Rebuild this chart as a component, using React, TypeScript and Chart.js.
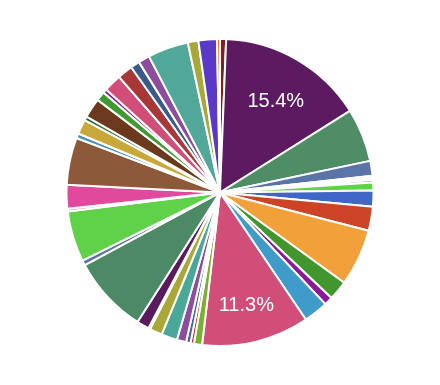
import React, { useEffect, useRef } from "react";
import { Chart, registerables } from "chart.js";

Chart.register(...registerables);

const categories: string[] = [
  "S1", "S2", "S3", "S4", "S5", "S6", "S7", "S8", "S9", "S10",
  "S11", "S12", "S13", "S14", "S15", "S16", "S17", "S18", "S19", "S20",
  "S21", "S22", "S23", "S24", "S25", "S26", "S27", "S28", "S29", "S30",
  "S31", "S32", "S33", "S34", "S35", "S36", "S37", "S38", "S39", "S40",
  "S41", "S42", "S43",
];

const values: number[] = [
  0.64, 15.4, 5.62, 1.56, 0.22, 0.22, 0.25, 0.83, 1.69, 2.53,
  5.98, 2.06, 0.89, 2.58, 11.3, 0.86, 0.36, 0.47, 0.97, 1.67,
  1.33, 0.19, 1.31, 8.1, 0.53, 5.33, 0.28, 2.5, 4.96, 0.5,
  1.53, 0.42, 2.08, 0.97, 0.42, 1.86, 1.61, 0.97, 1.19, 4.28,
  1.11, 1.94, 0.31,
];

const colors: string[] = [
  "#8a1c1c", "#5c1a60", "#4f8d66", "#5a74a8", "#eadccc", "#c8a070", "#a0683a", "#5dd444", "#3e67c8", "#cc4425",
  "#f2a03a", "#41962e", "#8a1a9a", "#3f9bc8", "#d04e78", "#79b030", "#cc3030", "#4060b0", "#8e4c9e", "#4aa898",
  "#a8a838", "#f0f0f0", "#5a1a5e", "#4b8a64", "#5a74a8", "#5fd24a", "#d090c0", "#e04a9c", "#8c5a3a", "#4a90b0",
  "#c8a838", "#2e6b3a", "#6b3a1c", "#3f9a30", "#8a1aa0", "#d04e78", "#a83838", "#3a5a8a", "#8e4c9e", "#52a898",
  "#a8a838", "#5a38c8", "#e07020",
];

const labelPlugin = {
  id: "sliceLabels",
  afterDatasetsDraw(chart: any) {
    const ctx = chart.ctx;
    const meta = chart.getDatasetMeta(0);
    const data = chart.data.datasets[0].data as number[];
    const total = data.reduce((a, b) => a + b, 0);
    ctx.save();
    ctx.fillStyle = "#ffffff";
    ctx.font = "20px 'Liberation Sans', Arial, sans-serif";
    ctx.textAlign = "center";
    ctx.textBaseline = "middle";
    meta.data.forEach((arc: any, i: number) => {
      const pct = (data[i] / total) * 100;
      if (pct < 10) return;
      const p = arc.getProps(["x", "y", "startAngle", "endAngle", "outerRadius"], true);
      const mid = (p.startAngle + p.endAngle) / 2;
      const r = p.outerRadius * 0.725;
      ctx.fillText(pct.toFixed(1) + "%", p.x + Math.cos(mid) * r, p.y + Math.sin(mid) * r + 5);
    });
    ctx.restore();
  },
};

export default function App() {
  const ref = useRef<HTMLCanvasElement | null>(null);
  useEffect(() => {
    if (!ref.current) return;
    const chart = new Chart(ref.current, {
      type: "pie",
      data: {
        labels: categories,
        datasets: [
          {
            data: values,
            backgroundColor: colors,
            borderColor: "#ffffff",
            borderWidth: 2,
          },
        ],
      },
      options: {
        animation: false,
        responsive: true,
        maintainAspectRatio: false,
        layout: { padding: 30 },
        plugins: {
          legend: { display: false },
          tooltip: { enabled: false },
        },
      },
      plugins: [labelPlugin],
    });
    return () => chart.destroy();
  }, []);
  return (
    <div style={{ width: 424, height: 369, position: "relative" }}>
      <canvas ref={ref} />
    </div>
  );
}
